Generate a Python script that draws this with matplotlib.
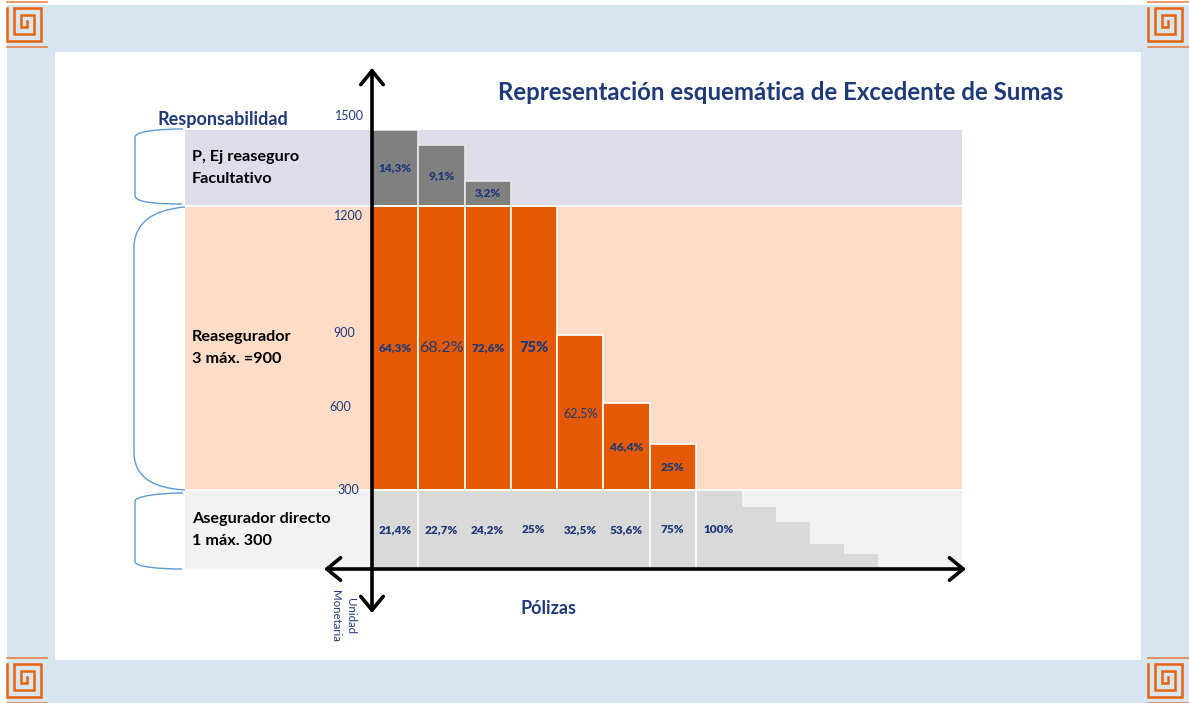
import numpy as np
import matplotlib
matplotlib.use("Agg")
import matplotlib.pyplot as plt
from matplotlib.path import Path
from matplotlib.patches import PathPatch, Rectangle

plt.rcParams['font.family'] = ['Lato', 'DejaVu Sans']

# ---------------- data ----------------
policies = list(range(1, 13))
retention = [300, 300, 300, 300, 300, 300, 300, 300, 235, 178, 95, 57]      # Asegurador directo
reinsurer = [900, 900, 900, 900, 490, 275, 145, 0, 0, 0, 0, 0]              # Reasegurador (excedente)
facultative = [300, 240, 100, 0, 0, 0, 0, 0, 0, 0, 0, 0]                    # Facultativo
ret_labels = ["21,4%", "22,7%", "24,2%", "25%", "32,5%", "53,6%", "75%", "100%"]
rea_labels = ["64,3%", "68.2%", "72,6%", "75%", "62,5%", "46,4%", "25%"]
fac_labels = ["14,3%", "9,1%", "3,2%"]
band_limits = [0, 300, 1200, 1500]
tick_values = ["1500", "1200", "900", "600", "300"]

# ---------------- style / layout ----------------
W, H = 1189, 703
NAVY = "#1F3A78"
ORANGE = "#E55A00"
PEACH = "#FDDCC7"
LAVENDER = "#DFDDEA"
LIGHTGRAY = "#F2F2F2"
MIDGRAY = "#D9D9D9"
DARKGRAY = "#808080"
FRAME = "#D7E6EE"
KEY = "#E8620F"
BRACE = "#5B9BD5"

widths = np.array([1.0] * 8 + [0.735] * 4)
lefts = np.concatenate([[0], np.cumsum(widths)[:-1]])
centers = lefts + widths / 2

# schematic piecewise scale: value -> display units
B = np.array(band_limits, float)
P = np.array([0, 79, 363, 439], float)


def fwd(v):
    v = np.asarray(v, float)
    return np.where(v < B[0], (v - B[0]) * (P[1] - P[0]) / (B[1] - B[0]),
                    np.where(v > B[-1], P[-1] + (v - B[-1]) * (P[-1] - P[-2]) / (B[-1] - B[-2]),
                             np.interp(v, B, P)))


def inv(p):
    p = np.asarray(p, float)
    return np.where(p < P[0], B[0] + p * (B[1] - B[0]) / (P[1] - P[0]),
                    np.where(p > P[-1], B[-1] + (p - P[-1]) * (B[-1] - B[-2]) / (P[-1] - P[-2]),
                             np.interp(p, P, B)))


def mid(a, b):
    return float(inv((fwd(a) + fwd(b)) / 2))


fig = plt.figure(figsize=(W / 100, H / 100), dpi=100)

# background decorations (pixel coordinates)
bg = fig.add_axes([0, 0, 1, 1], zorder=0)
bg.set_xlim(0, W)
bg.set_ylim(H, 0)
bg.axis('off')
bg.add_patch(Rectangle((7, 5), W - 7, H - 5, color=FRAME, lw=0))
bg.add_patch(Rectangle((55, 52), 1141 - 55, 660 - 52, color='white', lw=0))


def draw_key(ox, oy):
    pts = [(7, 8), (7, 41), (41, 41), (41, 8), (14, 8), (14, 34), (34, 34),
           (34, 15), (21, 15), (21, 27), (27, 27), (27, 21)]
    xs = [ox + p[0] for p in pts]
    ys = [oy + p[1] for p in pts]
    bg.plot(xs, ys, color=KEY, lw=1.8, solid_joinstyle='miter')
    bg.plot([ox + 7, ox + 47], [oy + 1.5, oy + 1.5], color=KEY, lw=1.3, alpha=0.7)
    bg.plot([ox + 7, ox + 47], [oy + 47, oy + 47], color=KEY, lw=1.3, alpha=0.7)


for ox, oy in [(0, 0), (1141, 0), (0, 656), (1141, 656)]:
    draw_key(ox, oy)


def brace(pts):
    codes = [Path.MOVETO, Path.CURVE4, Path.CURVE4, Path.CURVE4, Path.LINETO,
             Path.CURVE4, Path.CURVE4, Path.CURVE4]
    bg.add_patch(PathPatch(Path(pts, codes), fc='none', ec=BRACE, lw=1.0))


brace([(183, 129), (160, 129), (136, 131), (135, 137), (135, 196), (136, 203), (160, 204), (182, 204)])
brace([(185, 207), (150, 210), (134, 225), (134, 248), (134, 452), (134, 475), (150, 488), (185, 490)])
brace([(183, 493), (160, 493), (136, 496), (135, 501), (135, 562), (136, 567), (160, 569), (182, 569)])

# ---------------- data axes ----------------
ax = fig.add_axes([185 / W, (H - 569) / H, (962 - 185) / W, (569 - 130) / H], zorder=1)
ax.set_yscale('function', functions=(fwd, inv))
unit = (742 - 372) / 8.0
ax.set_xlim((185 - 372) / unit, (962 - 372) / unit)
ax.set_ylim(band_limits[0], band_limits[-1])
ax.patch.set_alpha(0)
ax.axis('off')

ax.axhspan(band_limits[0], band_limits[1], color=LIGHTGRAY, lw=0)
ax.axhspan(band_limits[1], band_limits[2], color=PEACH, lw=0)
ax.axhspan(band_limits[2], band_limits[3], color=LAVENDER, lw=0)
ax.axhline(band_limits[1], color='white', lw=1.2)
ax.axhline(band_limits[2], color='white', lw=1.2)

ret = np.array(retention, float)
rea = np.array(reinsurer, float)
fac = np.array(facultative, float)

ax.bar(lefts, ret, width=widths, align='edge', color=MIDGRAY, lw=0)
sep = [1, 6, 7]
ax.vlines(lefts[sep], 0, ret[sep], color='white', lw=1.2)
m = rea > 0
ax.bar(lefts[m], rea[m], width=widths[m], bottom=ret[m], align='edge',
       color=ORANGE, edgecolor='white', lw=1.2)
m2 = fac > 0
ax.bar(lefts[m2], fac[m2], width=widths[m2], bottom=(ret + rea)[m2], align='edge',
       color=DARKGRAY, edgecolor='#E8E8E8', lw=1.2)

# bar labels
LBL = 8.5
BW = 'heavy'
for i, t in enumerate(ret_labels):
    ax.text(centers[i], mid(0, ret[i]), t, ha='center', va='center',
            color=NAVY, fontsize=LBL, fontweight=BW)
rea_styles = [(LBL, BW), (11.5, 'normal'), (LBL, BW), (10.5, BW),
              (9, 'normal'), (LBL, BW), (LBL, BW)]
for i, t in enumerate(rea_labels):
    fs, fw = rea_styles[i]
    ax.text(centers[i], mid(ret[i], ret[i] + rea[i]), t, ha='center', va='center',
            color=NAVY, fontsize=fs, fontweight=fw)
for i, t in enumerate(fac_labels):
    ax.text(centers[i], mid(ret[i] + rea[i], ret[i] + rea[i] + fac[i]), t,
            ha='center', va='center', color=NAVY, fontsize=LBL, fontweight=BW)

# ---------------- foreground (axes arrows and texts) ----------------
fg = fig.add_axes([0, 0, 1, 1], zorder=2)
fg.set_xlim(0, W)
fg.set_ylim(H, 0)
fg.axis('off')
fg.patch.set_alpha(0)

arrow = dict(arrowstyle='<->,head_length=0.55,head_width=0.45', lw=2.6, color='black',
             shrinkA=0, shrinkB=0, mutation_scale=18)
fg.annotate('', xy=(372, 68), xytext=(372, 613), arrowprops=arrow)
fg.annotate('', xy=(966, 569), xytext=(324, 569), arrowprops=arrow)

fg.text(781, 92, "Representación esquemática de Excedente de Sumas", ha='center', va='center',
        color=NAVY, fontsize=17.3, fontweight='bold')
fg.text(223, 120, "Responsabilidad", ha='center', va='center', color=NAVY,
        fontsize=13, fontweight='bold')
fg.text(549, 608, "Pólizas", ha='center', va='center', color=NAVY,
        fontsize=13, fontweight='bold')
fg.text(343, 616, "Unidad\nMonetaria", ha='center', va='center', rotation=270,
        color=NAVY, fontsize=8.3, linespacing=1.35)

for t, (x, y) in zip(tick_values, [(349, 116), (348, 216), (344, 333), (340, 407), (348, 490)]):
    fg.text(x, y, t, ha='center', va='center', color=NAVY, fontsize=9)

for (x, y), t in zip([(192, 168), (192, 348), (192, 530)],
                     ["P, Ej reaseguro\nFacultativo", "Reasegurador\n3 máx. =900",
                      "Asegurador directo\n1 máx. 300"]):
    fg.text(x, y, t, ha='left', va='center', color='black', fontsize=11.7,
            fontweight='bold', linespacing=1.75)

fig.savefig("out.png", dpi=100)
